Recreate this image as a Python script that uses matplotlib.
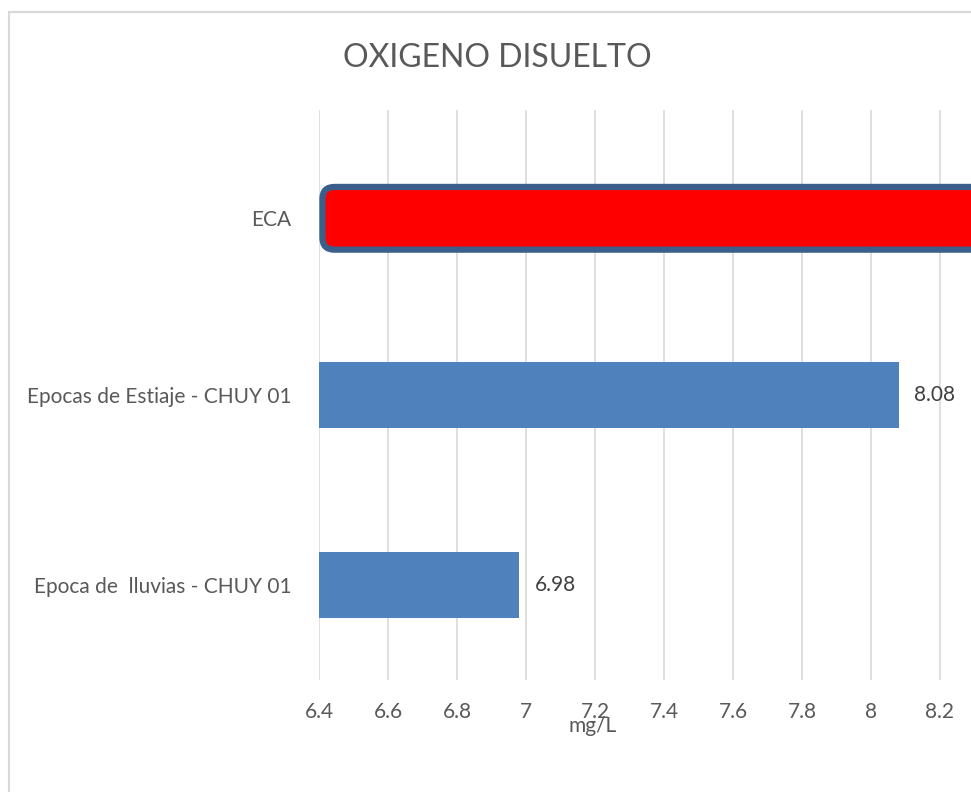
"""Oxigeno disuelto - horizontal bar chart."""

import matplotlib
matplotlib.use('Agg')
import matplotlib.pyplot as plt
from matplotlib.patches import Rectangle, FancyBboxPatch

categories = ["Epoca de  lluvias - CHUY 01", "Epocas de Estiaje - CHUY 01", "ECA"]
values = [6.98, 8.08, 8.5]
xticks = [6.4, 6.6, 6.8, 7.0, 7.2, 7.4, 7.6, 7.8, 8.0, 8.2]
xtick_labels = ["6.4", "6.6", "6.8", "7", "7.2", "7.4", "7.6", "7.8", "8", "8.2"]

plt.rcParams['font.family'] = ['Lato', 'DejaVu Sans']
TEXT = "#595959"

W, H = 971, 792
fig = plt.figure(figsize=(W / 100, H / 100), dpi=100)

# outer chart frame (cropped on the right and bottom)
fig.patches.append(Rectangle((9 / W, -0.05), 1.2, 1 - 12 / H + 0.05,
                             transform=fig.transFigure, fill=False,
                             edgecolor="#D9D9D9", linewidth=1.5))

ax = fig.add_axes([319 / W, 1 - 680 / H, 1 - 319 / W, 570 / H])
ax.set_xlim(6.4, 8.29)
ax.set_ylim(-0.5, 2.5)

ypos = [0, 1, 1.93]
left = 6.4
ax.barh(ypos[:2], [v - left for v in values[:2]], left=left, height=0.35,
        color="#4F81BD", zorder=3)

# ECA bar: red with rounded dark-blue outline
px_x = 345.0   # pixels per x unit
px_y = 190.0   # pixels per y unit
h = 0.33
eca = FancyBboxPatch((left + 0.01, ypos[2] - h / 2), values[2] - left, h,
                     boxstyle=f"round,pad=0,rounding_size={12 / px_x}",
                     mutation_aspect=px_x / px_y,
                     facecolor="#FF0000", edgecolor="#3A5F8B", linewidth=4.5,
                     zorder=3)
ax.add_patch(eca)

for y, v in zip(ypos[:2], values[:2]):
    ax.text(v + 0.045, y, f"{v:.2f}", va="center", ha="left",
            fontsize=15, color="#404040")

ax.set_xticks(xticks)
ax.set_xticklabels(xtick_labels, fontsize=15, color=TEXT)
ax.set_yticks(ypos)
ax.set_yticklabels(categories, fontsize=15, color=TEXT)
ax.tick_params(axis="both", length=0)
ax.tick_params(axis="x", pad=16)
ax.tick_params(axis="y", pad=20)
ax.grid(axis="x", color="#D9D9D9", linewidth=1.2, zorder=0)
for s in ax.spines.values():
    s.set_visible(False)

fig.text(497 / W, 1 - 58 / H, "OXIGENO DISUELTO", ha="center", va="center",
         fontsize=23, color=TEXT)
fig.text(593 / W, 1 - 726 / H, "mg/L", ha="center", va="center",
         fontsize=15, color=TEXT)

plt.savefig("out.png", dpi=100)
plt.close()
